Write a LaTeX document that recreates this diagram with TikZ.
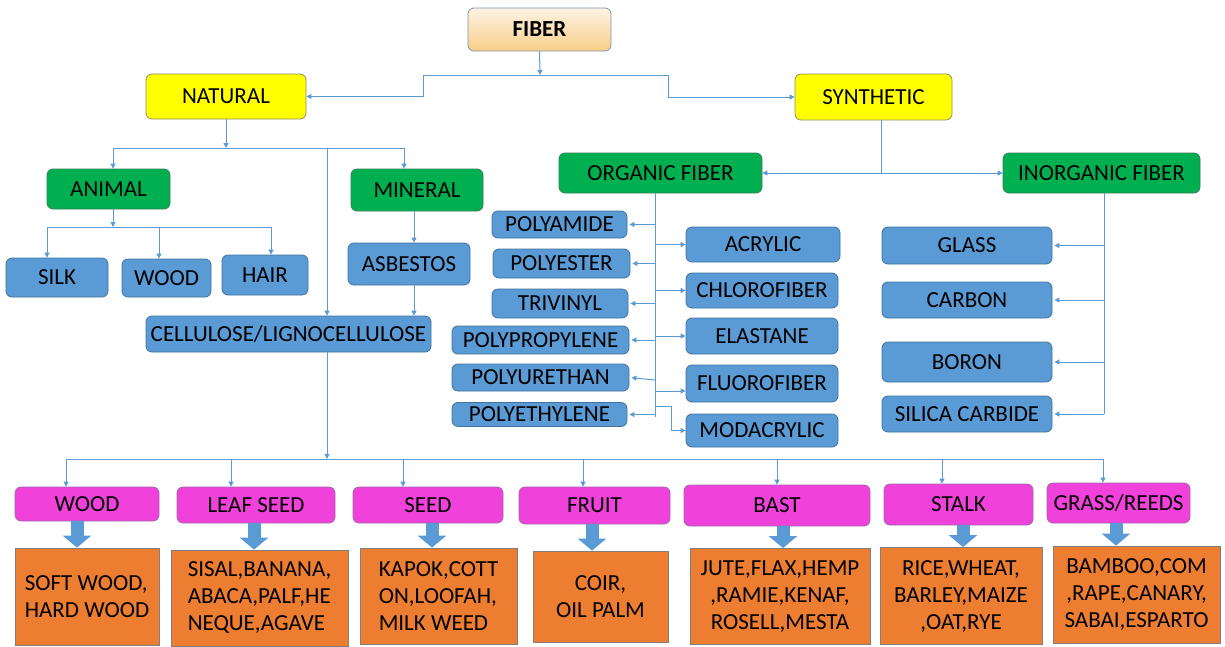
\documentclass[tikz,border=0pt]{standalone}
\usepackage{fontspec}
\setmainfont{Carlito}
\usetikzlibrary{arrows.meta}
\definecolor{lineblue}{HTML}{5B9BD5}
\definecolor{boxblue}{HTML}{5B9BD5}
\definecolor{boxblueb}{HTML}{41719C}
\definecolor{boxgreen}{HTML}{00B050}
\definecolor{boxgreenb}{HTML}{3B7D5A}
\definecolor{boxyellow}{HTML}{FFFF00}
\definecolor{boxyellowb}{HTML}{8C8C6A}
\definecolor{boxpink}{HTML}{F041DB}
\definecolor{boxpinkb}{HTML}{9A6AA8}
\definecolor{boxorange}{HTML}{ED7D31}
\definecolor{boxorangeb}{HTML}{7F7F7F}
\definecolor{fibtop}{HTML}{FEF3E4}
\definecolor{fibbot}{HTML}{F8CE88}
\definecolor{fiberb}{HTML}{7F94A8}
\begin{document}
\begin{tikzpicture}[x=1pt,y=-1pt,
  every node/.style={font=\fontsize{23}{27}\selectfont, inner sep=0pt, align=center, text=black},
  box/.style={draw, line width=0.8pt, rounded corners=6pt},
  bluebox/.style={box, fill=boxblue, draw=boxblueb},
  greenbox/.style={box, fill=boxgreen, draw=boxgreenb},
  yellowbox/.style={box, fill=boxyellow, draw=boxyellowb},
  pinkbox/.style={box, fill=boxpink, draw=boxpinkb},
  orangebox/.style={draw=boxorangeb, line width=0.8pt, fill=boxorange},
  conn/.style={draw=lineblue, line width=1pt, -{Triangle[length=5pt,width=5pt]}},
  wire/.style={draw=lineblue, line width=1pt},
  bigarrow/.style={draw=lineblue, line width=13pt, -{Triangle[length=12pt,width=28pt]}},
]
\useasboundingbox (0,0) rectangle (1225,646);

% top level
\node[box, draw=fiberb, top color=fibtop, bottom color=fibbot, minimum width=143pt, minimum height=43pt, font=\fontsize{23}{27}\selectfont\bfseries] (fiber) at (539.5,29.5) {FIBER};
\node[yellowbox, minimum width=160pt, minimum height=45pt] (natural) at (226,96.5) {NATURAL};
\node[yellowbox, minimum width=157pt, minimum height=46pt] (synthetic) at (873.5,97) {SYNTHETIC};

% natural branch
\node[greenbox, minimum width=123pt, minimum height=40pt] (animal) at (108.5,189) {ANIMAL};
\node[greenbox, minimum width=132pt, minimum height=42pt] (mineral) at (417,190) {MINERAL};
\node[bluebox, minimum width=102pt, minimum height=39pt] (silk) at (57,277.5) {SILK};
\node[bluebox, minimum width=89pt, minimum height=38pt] (woodA) at (166.5,278) {WOOD};
\node[bluebox, minimum width=86pt, minimum height=40pt] (hair) at (265,275) {HAIR};
\node[bluebox, minimum width=122pt, minimum height=42pt] (asbestos) at (409,264) {ASBESTOS};
\node[bluebox, minimum width=285pt, minimum height=36pt] (cellulose) at (288.5,334) {CELLULOSE/LIGNOCELLULOSE};

% synthetic branch
\node[greenbox, minimum width=203pt, minimum height=40pt] (organic) at (660.5,173) {ORGANIC FIBER};
\node[greenbox, minimum width=197pt, minimum height=40pt] (inorganic) at (1101.5,173) {INORGANIC FIBER};

\node[bluebox, minimum width=135pt, minimum height=27pt] (polyamide) at (559.5,224.5) {POLYAMIDE};
\node[bluebox, minimum width=137pt, minimum height=29pt] (polyester) at (561.5,263.5) {POLYESTER};
\node[bluebox, minimum width=136pt, minimum height=29pt] (trivinyl) at (560,303.5) {TRIVINYL};
\node[bluebox, minimum width=177pt, minimum height=28pt] (polypropylene) at (540.5,340) {POLYPROPYLENE};
\node[bluebox, minimum width=177pt, minimum height=27pt] (polyurethan) at (540.5,377.5) {POLYURETHAN};
\node[bluebox, minimum width=175pt, minimum height=24pt] (polyethylene) at (539.5,414.5) {POLYETHYLENE};

\node[bluebox, minimum width=154pt, minimum height=35pt] (acrylic) at (763,244.5) {ACRYLIC};
\node[bluebox, minimum width=152pt, minimum height=35pt] (chlorofiber) at (762,290.5) {CHLOROFIBER};
\node[bluebox, minimum width=152pt, minimum height=36pt] (elastane) at (762,336) {ELASTANE};
\node[bluebox, minimum width=152pt, minimum height=37pt] (fluorofiber) at (762,383.5) {FLUOROFIBER};
\node[bluebox, minimum width=152pt, minimum height=33pt] (modacrylic) at (762,430.5) {MODACRYLIC};

\node[bluebox, minimum width=170pt, minimum height=37pt] (glass) at (967,245.5) {GLASS};
\node[bluebox, minimum width=170pt, minimum height=36pt] (carbon) at (967,300) {CARBON};
\node[bluebox, minimum width=170pt, minimum height=40pt] (boron) at (967,362) {BORON};
\node[bluebox, minimum width=170pt, minimum height=36pt] (silica) at (967,414) {SILICA CARBIDE};

% cellulose categories
\node[pinkbox, minimum width=144pt, minimum height=34pt] (woodB) at (87,504) {WOOD};
\node[pinkbox, minimum width=158pt, minimum height=36pt] (leaf) at (256,505) {LEAF SEED};
\node[pinkbox, minimum width=150pt, minimum height=36pt] (seed) at (428,505) {SEED};
\node[pinkbox, minimum width=151pt, minimum height=37pt] (fruit) at (594.5,505.5) {FRUIT};
\node[pinkbox, minimum width=186pt, minimum height=41pt] (bast) at (777,505.5) {BAST};
\node[pinkbox, minimum width=149pt, minimum height=41pt] (stalk) at (958.5,504.5) {STALK};
\node[pinkbox, minimum width=143pt, minimum height=40pt] (grass) at (1118.5,503) {GRASS/REEDS};

\node[orangebox, minimum width=144pt, minimum height=97pt, align=left] (o1) at (87,596.5) {SOFT WOOD,\\HARD WOOD};
\node[orangebox, minimum width=177pt, minimum height=96pt, align=left] (o2) at (259.5,598) {SISAL,BANANA,\\ABACA,PALF,HE\\NEQUE,AGAVE};
\node[orangebox, minimum width=157pt, minimum height=96pt, align=left] (o3) at (438.5,596) {KAPOK,COTT\\ON,LOOFAH,\\MILK WEED};
\node[orangebox, minimum width=135pt, minimum height=91pt] (o4) at (600.5,596.5) {COIR,\\OIL PALM};
\node[orangebox, minimum width=180pt, minimum height=96pt] (o5) at (780,596.5) {JUTE,FLAX,HEMP\\,RAMIE,KENAF,\\ROSELL,MESTA};
\node[orangebox, minimum width=162pt, minimum height=97pt] (o6) at (961,596) {RICE,WHEAT,\\BARLEY,MAIZE\\,OAT,RYE};
\node[orangebox, minimum width=167pt, minimum height=97pt] (o7) at (1136.5,594.5) {BAMBOO,COM\\,RAPE,CANARY,\\SABAI,ESPARTO};

% ---------- connectors ----------
\coordinate (jF) at (540,75);
\draw[conn] (fiber.south) -- (jF);
\draw[conn] (jF) -- (423,75) |- (natural.east);
\draw[conn] (jF) -- (668,75) |- (synthetic.west);

\coordinate (jN) at (226,148);
\draw[conn] (natural.south) -- (jN);
\draw[wire] (113,148) -- (404,148);
\draw[conn] (113,148) -- (113,0 |- animal.north);
\draw[conn] (404,148) -- (404,0 |- mineral.north);
\draw[conn] (327,148) -- (327,0 |- cellulose.north);

\coordinate (jA) at (113,227);
\draw[conn] (113,0 |- animal.south) -- (jA);
\draw[wire] (47,227) -- (271,227);
\draw[conn] (47,227) -- (47,0 |- silk.north);
\draw[conn] (159,227) -- (159,0 |- woodA.north);
\draw[conn] (271,227) -- (271,0 |- hair.north);

\draw[conn] (414,0 |- mineral.south) -- (414,0 |- asbestos.north);
\draw[conn] (414,0 |- asbestos.south) -- (414,0 |- cellulose.north);

\coordinate (jC) at (327,459);
\draw[conn] (327,0 |- cellulose.south) -- (jC);
\draw[wire] (66,459) -- (1103,459);
\draw[conn] (66,459) -- (66,0 |- woodB.north);
\draw[conn] (231,459) -- (231,0 |- leaf.north);
\draw[conn] (403,459) -- (403,0 |- seed.north);
\draw[conn] (583,459) -- (583,0 |- fruit.north);
\draw[conn] (777,459) -- (777,0 |- bast.north);
\draw[conn] (942,459) -- (942,0 |- stalk.north);
\draw[conn] (1103,459) -- (1103,0 |- grass.north);

% block arrows
\draw[bigarrow] (77,0 |- woodB.south) -- (77,0 |- o1.north);
\draw[bigarrow] (254,0 |- leaf.south) -- (254,0 |- o2.north);
\draw[bigarrow] (432,0 |- seed.south) -- (432,0 |- o3.north);
\draw[bigarrow] (592,0 |- fruit.south) -- (592,0 |- o4.north);
\draw[bigarrow] (783,0 |- bast.south) -- (783,0 |- o5.north);
\draw[bigarrow] (963,0 |- stalk.south) -- (963,0 |- o6.north);
\draw[bigarrow] (1116,0 |- grass.south) -- (1116,0 |- o7.north);

% synthetic
\coordinate (jS) at (881,173);
\draw[wire] (881,0 |- synthetic.south) -- (jS);
\draw[conn] (jS) -- (organic.east);
\draw[conn] (jS) -- (inorganic.west);

% organic list
\draw[wire] (655,0 |- organic.south) -- (655,417);
\draw[conn, shorten >=2pt] (655,0 |- polyamide.east) -- (polyamide.east);
\draw[conn, shorten >=2pt] (655,0 |- polyester.east) -- (polyester.east);
\draw[conn, shorten >=2pt] (655,0 |- trivinyl.east) -- (trivinyl.east);
\draw[conn, shorten >=2pt] (655,0 |- polypropylene.east) -- (polypropylene.east);
\draw[conn, shorten >=2pt] (655,380) -- (polyurethan.east);
\draw[conn, shorten >=2pt] (655,0 |- polyethylene.east) -- (polyethylene.east);
\draw[conn] (655,0 |- acrylic.west) -- (acrylic.west);
\draw[conn] (655,0 |- chlorofiber.west) -- (chlorofiber.west);
\draw[conn] (655,0 |- elastane.west) -- (elastane.west);
\draw[conn] (655,391) -- (fluorofiber.west |- 0,391);
\draw[conn] (655,406) -- (671,406) |- (modacrylic.west);

% inorganic list
\draw[wire] (1104,0 |- inorganic.south) -- (1104,414);
\draw[conn, shorten >=2pt] (1104,0 |- glass.east) -- (glass.east);
\draw[conn, shorten >=2pt] (1104,0 |- carbon.east) -- (carbon.east);
\draw[conn, shorten >=2pt] (1104,0 |- boron.east) -- (boron.east);
\draw[conn, shorten >=2pt] (1104,0 |- silica.east) -- (silica.east);
\end{tikzpicture}
\end{document}
